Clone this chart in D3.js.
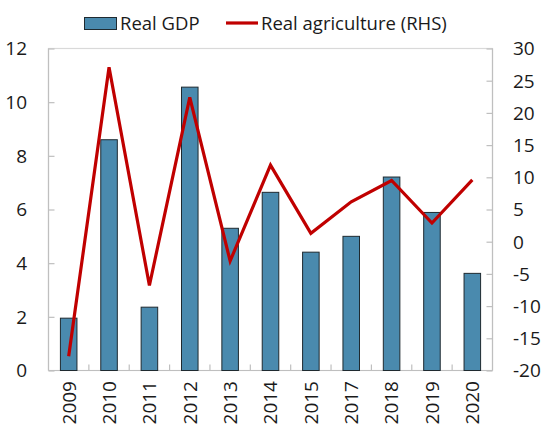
<!DOCTYPE html>
<html>
<head>
<meta charset="utf-8">
<script src="https://cdn.jsdelivr.net/npm/d3@7"></script>
<style>
  html, body { margin: 0; padding: 0; background: #fff; }
  svg { display: block; font-family: "Open Sans", "Noto Sans", sans-serif; }
</style>
</head>
<body>
<svg id="chart" width="548" height="428"></svg>
<script>
// Annual growth, per cent
const years = ["2009", "2010", "2011", "2012", "2013", "2014", "2015", "2017", "2018", "2019", "2020"];
const realGDP = [1.95, 8.6, 2.36, 10.56, 5.3, 6.64, 4.41, 5.0, 7.21, 5.89, 3.62];
const realAgriculture = [-17.8, 27.1, -6.8, 22.4, -3.0, 11.9, 1.3, 6.2, 9.5, 2.9, 9.6];
const leftTicks = [0, 2, 4, 6, 8, 10, 12];
const rightTicks = [-20, -15, -10, -5, 0, 5, 10, 15, 20, 25, 30];

const svg = d3.select("#chart");
const m = { left: 48.5, right: 492.5, top: 48.5, bottom: 370.5 };
const axisColor = "#bfbfbf";
const fontSize = 19;

const x = d3.scaleBand().domain(years).range([m.left, m.right]).paddingInner(0.59).paddingOuter(0.295);
const yL = d3.scaleLinear().domain([0, 12]).range([m.bottom, m.top]);
const yR = d3.scaleLinear().domain([-20, 30]).range([m.bottom, m.top]);

// plot frame
svg.append("rect")
  .attr("x", m.left).attr("y", m.top)
  .attr("width", m.right - m.left).attr("height", m.bottom - m.top)
  .attr("fill", "none").attr("stroke", "#d9d9d9").attr("stroke-width", 1.2);

// left axis
const gL = svg.append("g").attr("transform", `translate(${m.left},0)`)
  .call(d3.axisRight(yL).tickValues(leftTicks).tickSize(6).tickFormat(""));
gL.selectAll("line, path").attr("stroke", axisColor).attr("stroke-width", 1.2);
gL.select(".domain").attr("d", `M0,${m.top}V${m.bottom}`);
svg.append("g").selectAll("text").data(leftTicks).join("text")
  .attr("x", 27).attr("y", d => yL(d)).attr("dy", "0.36em")
  .attr("text-anchor", "end").attr("font-size", fontSize).attr("fill", "#1a1a1a")
  .text(d => d);

// right axis
const gR = svg.append("g").attr("transform", `translate(${m.right},0)`)
  .call(d3.axisLeft(yR).tickValues(rightTicks).tickSize(6).tickFormat(""));
gR.selectAll("line, path").attr("stroke", axisColor).attr("stroke-width", 1.2);
gR.select(".domain").attr("d", `M0,${m.top}V${m.bottom}`);
svg.append("g").selectAll("text").data(rightTicks).join("text")
  .attr("x", 513).attr("y", d => yR(d)).attr("dy", "0.36em")
  .attr("text-anchor", "start").attr("font-size", fontSize).attr("fill", "#1a1a1a")
  .text(d => d);

// x axis: ticks sit between categories
const step = x.step();
const boundaries = years.slice(1).map(d => x(d) - x.paddingInner() * step / 2);
svg.append("g").selectAll("line").data(boundaries).join("line")
  .attr("x1", d => d).attr("x2", d => d)
  .attr("y1", m.bottom).attr("y2", m.bottom - 6)
  .attr("stroke", axisColor).attr("stroke-width", 1.2);
svg.append("line")
  .attr("x1", m.left).attr("x2", m.right).attr("y1", m.bottom).attr("y2", m.bottom)
  .attr("stroke", axisColor).attr("stroke-width", 1.2);

// bars
svg.append("g").selectAll("rect").data(years).join("rect")
  .attr("x", d => x(d)).attr("width", x.bandwidth())
  .attr("y", (d, i) => yL(realGDP[i]))
  .attr("height", (d, i) => yL(0) - yL(realGDP[i]))
  .attr("fill", "#4a8aae").attr("stroke", "#1f2a30").attr("stroke-width", 1);

// line on the right-hand scale
const line = d3.line()
  .x((d, i) => x(years[i]) + x.bandwidth() / 2)
  .y(d => yR(d));
svg.append("path").datum(realAgriculture)
  .attr("d", line).attr("fill", "none")
  .attr("stroke", "#c00000").attr("stroke-width", 3.2)
  .attr("stroke-linejoin", "miter");

// year labels, rotated
svg.append("g").selectAll("text").data(years).join("text")
  .attr("transform", d => `translate(${x(d) + x.bandwidth() / 2},381) rotate(-90)`)
  .attr("dy", "0.36em").attr("text-anchor", "end")
  .attr("font-size", fontSize).attr("fill", "#1a1a1a")
  .text(d => d);

// legend
const legendSize = 18.5;
const lg = svg.append("g");
lg.append("rect").attr("x", 84.5).attr("y", 17.5).attr("width", 32).attr("height", 12)
  .attr("fill", "#4a8aae").attr("stroke", "#1f2a30").attr("stroke-width", 1);
lg.append("text").attr("x", 120).attr("y", 29.5).attr("font-size", legendSize).attr("fill", "#1a1a1a")
  .text("Real GDP");
lg.append("line").attr("x1", 226).attr("x2", 258).attr("y1", 23).attr("y2", 23)
  .attr("stroke", "#c00000").attr("stroke-width", 3.2);
lg.append("text").attr("x", 261).attr("y", 29.5).attr("font-size", legendSize).attr("fill", "#1a1a1a")
  .text("Real agriculture (RHS)");
</script>
</body>
</html>
